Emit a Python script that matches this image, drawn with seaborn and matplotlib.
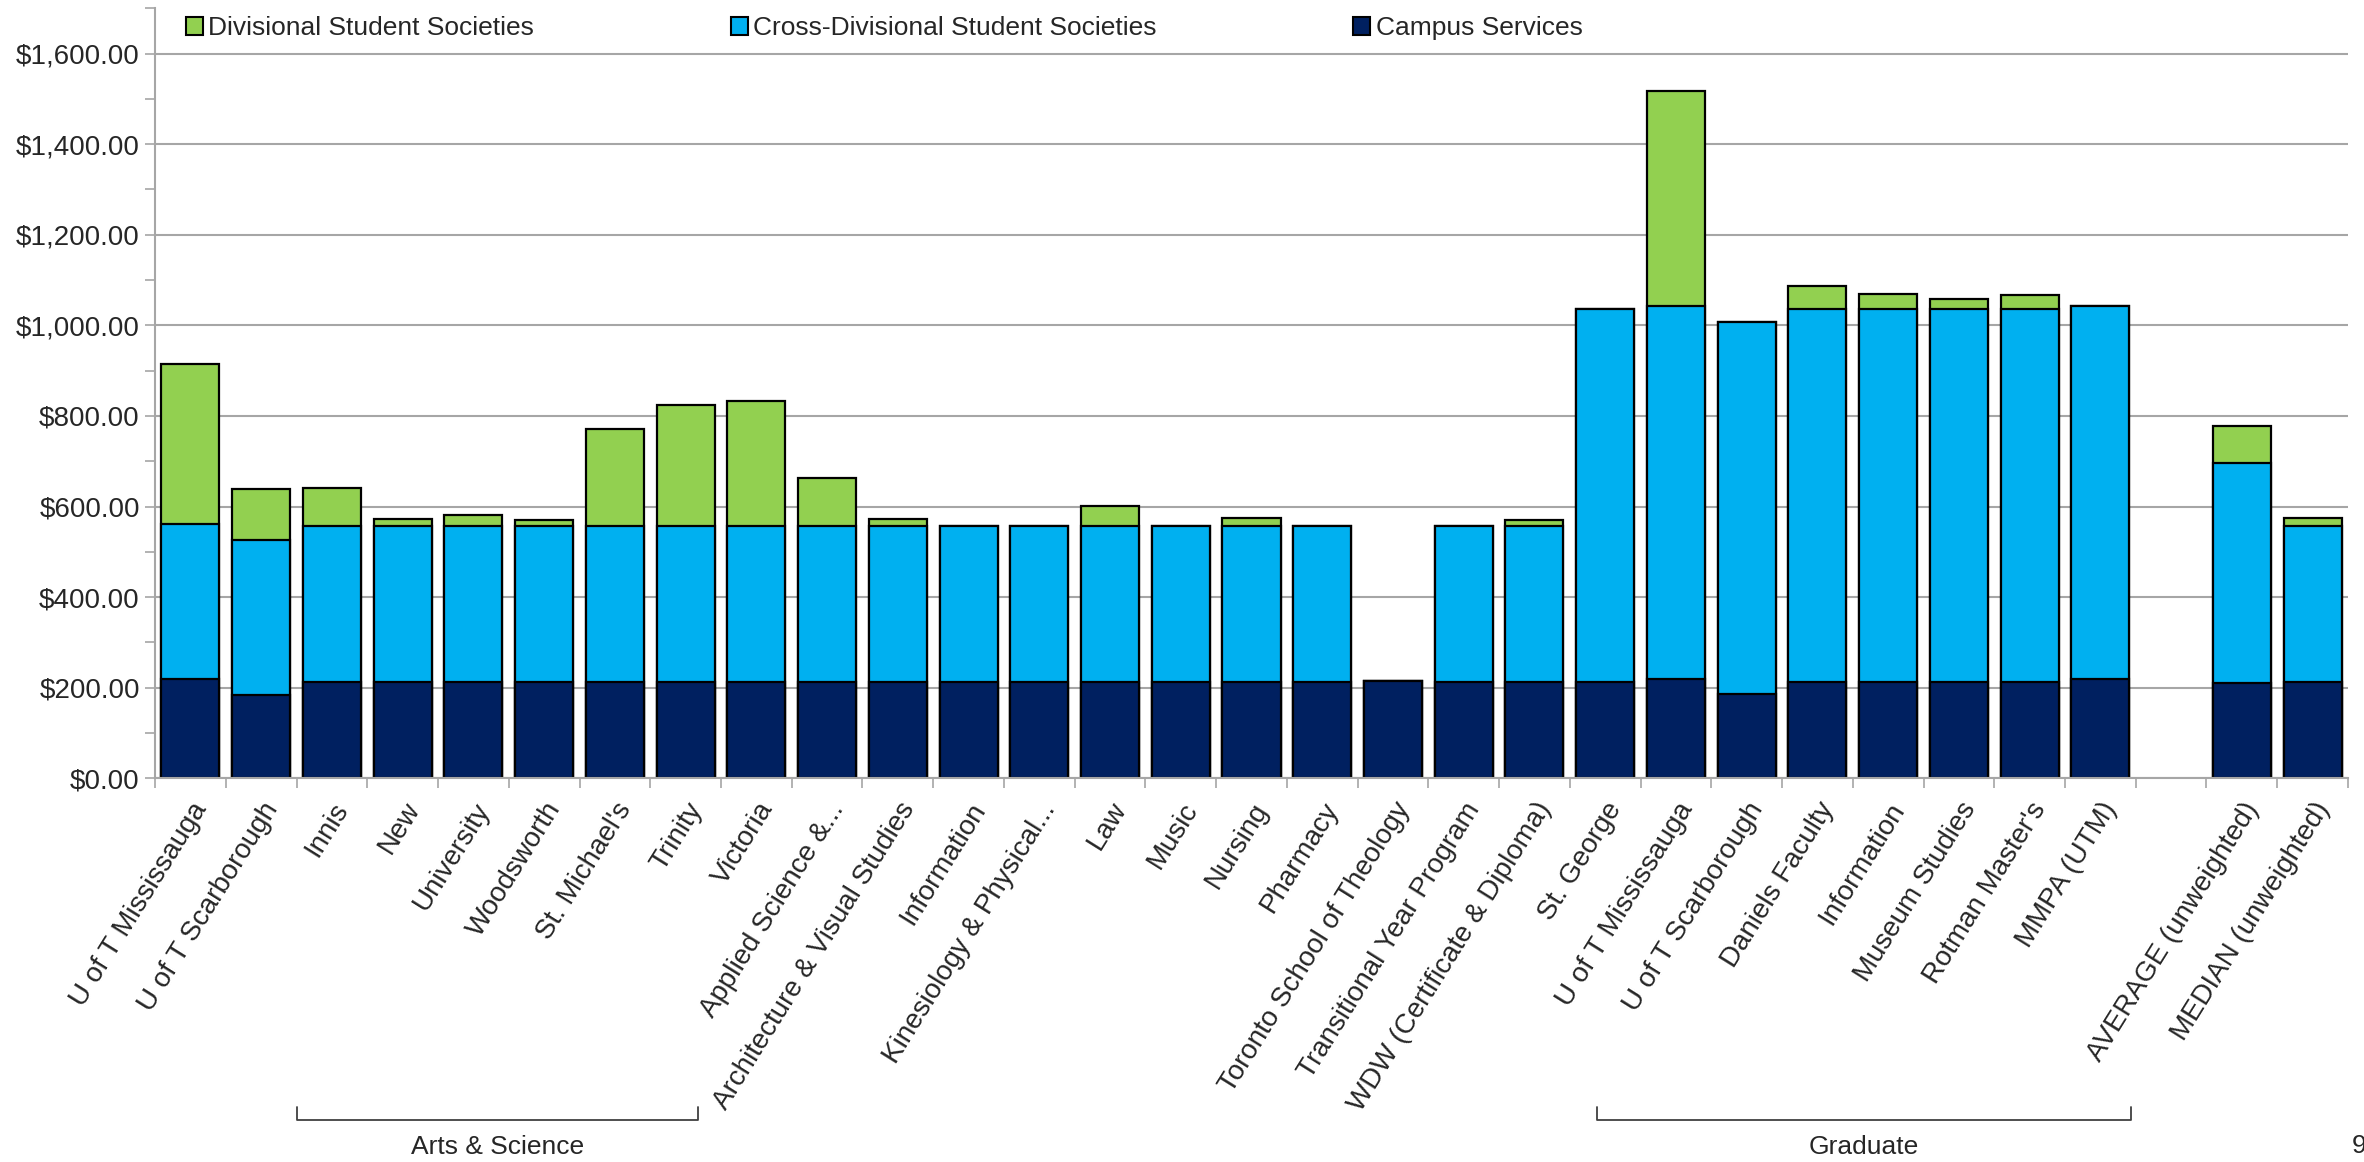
import numpy as np
import pandas as pd
import matplotlib
matplotlib.use("Agg")
import matplotlib.pyplot as plt
import matplotlib.transforms as mtransforms
from matplotlib.patches import Patch
from matplotlib.ticker import FuncFormatter, MultipleLocator
import seaborn as sns

# ---- data (slot 28 is the empty gap) ----
labels = [
    "U of T Mississauga", "U of T Scarborough", "Innis", "New", "University",
    "Woodsworth", "St. Michael's", "Trinity", "Victoria", "Applied Science &...",
    "Architecture & Visual Studies", "Information", "Kinesiology & Physical...",
    "Law", "Music", "Nursing", "Pharmacy", "Toronto School of Theology",
    "Transitional Year Program", "WDW (Certificate & Diploma)", "St. George",
    "U of T Mississauga", "U of T Scarborough", "Daniels Faculty", "Information",
    "Museum Studies", "Rotman Master's", "MMPA (UTM)", "",
    "AVERAGE (unweighted)", "MEDIAN (unweighted)",
]
campus_services = [219, 185, 213, 213, 213, 213, 213, 213, 213, 213, 213, 213, 213, 213, 213,
                   213, 213, 214, 213, 213, 213, 219, 186, 213, 213, 213, 213, 219, np.nan, 211, 213]
cross_divisional = [343, 342, 343, 343, 343, 343, 343, 343, 343, 343, 343, 343, 343, 343, 343,
                    343, 343, 0, 343, 343, 823, 824, 822, 823, 823, 823, 823, 824, np.nan, 484, 343]
divisional = [352, 112, 85, 17, 26, 14, 216, 268, 278, 108, 16, 0, 0, 45, 0,
              18, 0, 0, 0, 15, 0, 474, 0, 51, 34, 22, 32, 0, np.nan, 82, 19]

series_names = ["Divisional Student Societies", "Cross-Divisional Student Societies", "Campus Services"]
colors = {"Divisional Student Societies": "#92D050",
          "Cross-Divisional Student Societies": "#00B0F0",
          "Campus Services": "#002060"}

slots = [str(i) for i in range(len(labels))]
df = pd.DataFrame({"slot": slots, "campus": campus_services,
                   "cross": cross_divisional, "div": divisional})
df["blue_top"] = df["campus"] + df["cross"]
df["total"] = df["blue_top"] + df["div"]

sns.set_style("white")
plt.rcParams["font.family"] = ["Liberation Sans", "DejaVu Sans"]

fig = plt.figure(figsize=(23.64, 11.62), dpi=100)
ax = fig.add_axes([0.0656, 0.3302, 0.9276, 0.6627])

# stacked bars: draw the cumulative heights back to front
for col, name in [("total", series_names[0]), ("blue_top", series_names[1]), ("campus", series_names[2])]:
    sns.barplot(data=df, x="slot", y=col, order=slots, color=colors[name],
                saturation=1, edgecolor="black", linewidth=1.6, width=0.82,
                errorbar=None, ax=ax)

ax.set_xlim(-0.5, len(labels) - 0.5)
ax.set_ylim(0, 1700)
ax.yaxis.set_major_locator(MultipleLocator(200))
ax.yaxis.set_minor_locator(MultipleLocator(100))
ax.yaxis.set_major_formatter(FuncFormatter(lambda v, p: f"${v:,.2f}"))
ax.grid(axis="y", which="major", color="#a6a6a6", linewidth=1.5)
ax.set_axisbelow(True)
ax.set_xlabel("")
ax.set_ylabel("")

for s in ["top", "right"]:
    ax.spines[s].set_visible(False)
for s in ["left", "bottom"]:
    ax.spines[s].set_color("#a6a6a6")
    ax.spines[s].set_linewidth(1.5)

ax.tick_params(axis="y", which="both", direction="out", length=7, width=1.2,
               color="#a6a6a6", labelsize=20, pad=4, left=True)
ax.set_xticks(range(len(labels)))
ax.set_xticklabels(labels, rotation=58, ha="right", va="top", rotation_mode="anchor", fontsize=20)
ax.set_xticks(np.arange(-0.5, len(labels), 1.0), minor=True)
ax.tick_params(axis="x", which="major", length=0, pad=14)
ax.tick_params(axis="x", which="minor", direction="out", length=7, width=1.2,
               color="#a6a6a6", bottom=True)

handles = [Patch(facecolor=colors[n], edgecolor="black", linewidth=1.5) for n in series_names]
ax.legend(handles, series_names, loc="upper left", bbox_to_anchor=(0.008, 1.007),
          ncol=3, frameon=False, fontsize=19, handlelength=0.65, handleheight=0.65,
          handletextpad=0.2, columnspacing=7.45, borderaxespad=0.1)

# group brackets under the tick labels
trans = mtransforms.blended_transform_factory(ax.transData, fig.transFigure)
for x0, x1, name in [(1.5, 7.18, "Arts & Science"), (19.88, 27.44, "Graduate")]:
    ax.plot([x0, x0, x1, x1], [0.047, 0.036, 0.036, 0.047], color="#404040",
            linewidth=1.3, transform=trans, clip_on=False)
    ax.text((x0 + x1) / 2, 0.013, name, transform=trans, ha="center", va="center", fontsize=19)

fig.text(2352 / 2364, 0.014, "9", ha="left", va="center", fontsize=19)

fig.savefig("out.png", dpi=100, facecolor="white")
